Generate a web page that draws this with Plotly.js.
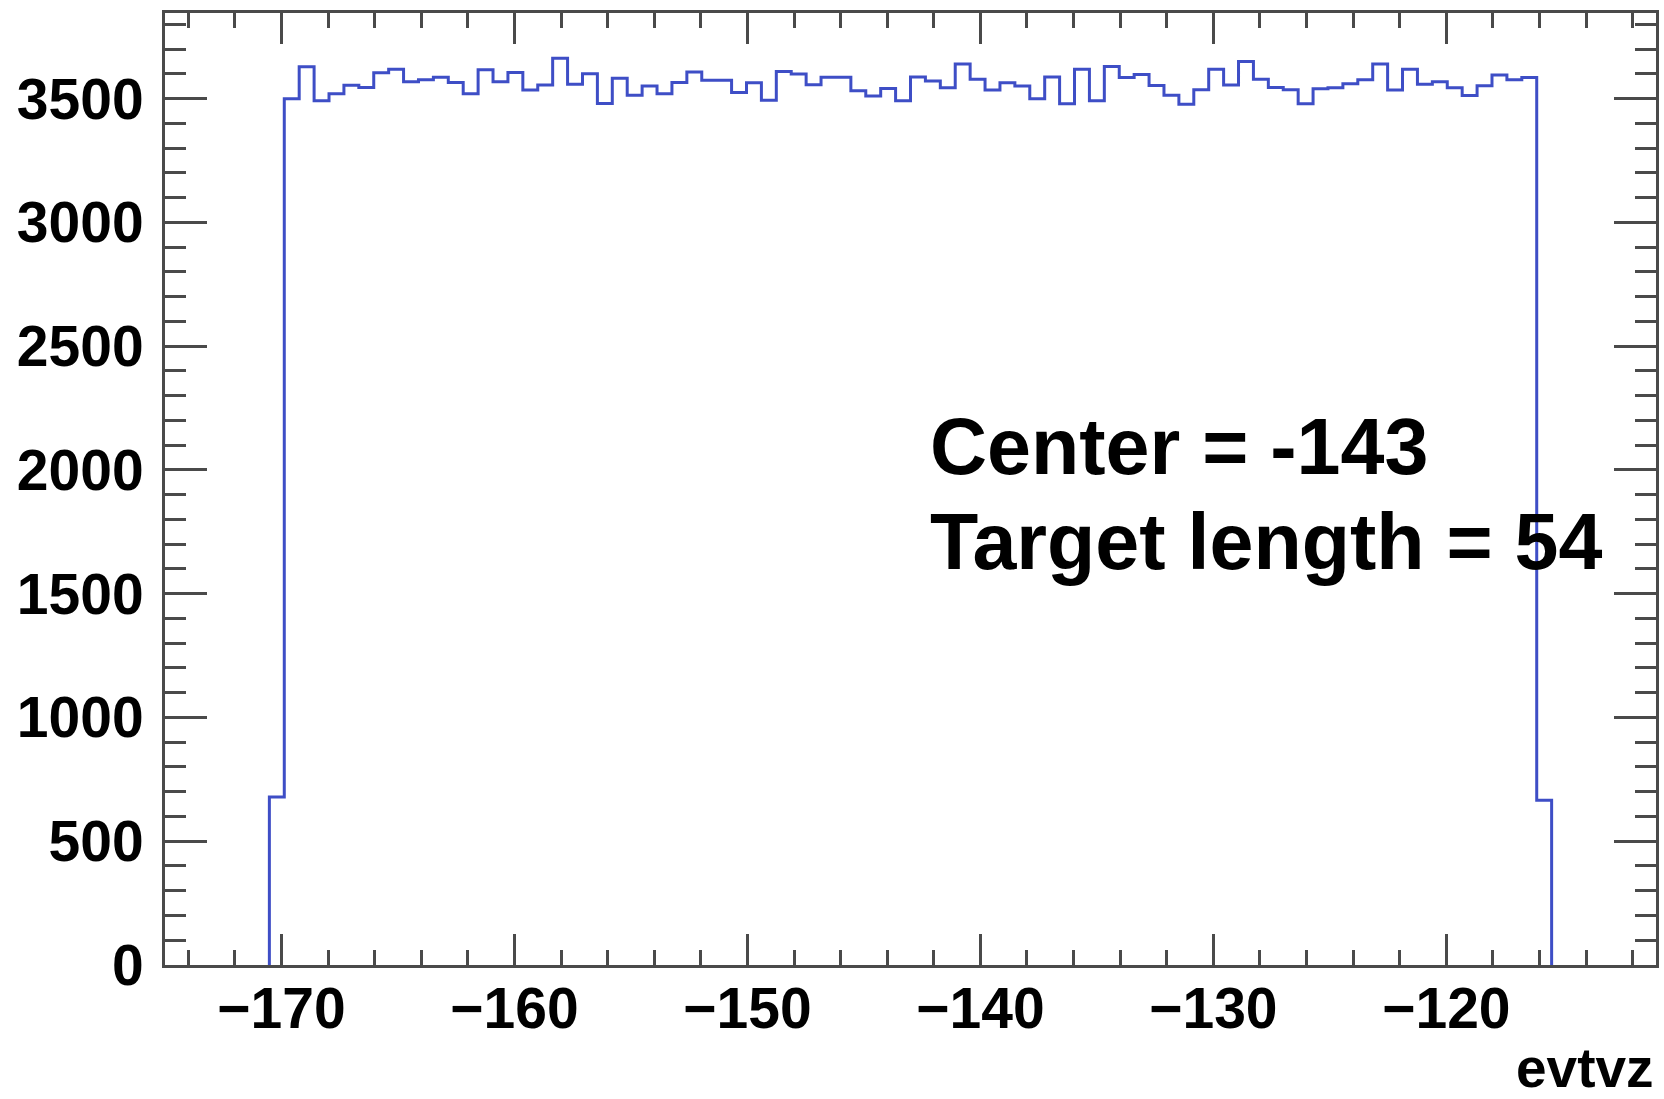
<!DOCTYPE html>
<html>
<head>
<meta charset="utf-8">
<script src="https://cdn.plot.ly/plotly-3.0.1.min.js"></script>
<style>
  html, body { margin: 0; padding: 0; background: #ffffff; }
  #chart { width: 1664px; height: 1099px; }
</style>
</head>
<body>
<div id="chart"></div>
<script>
// Histogram definition (ROOT-style TH1, 100 bins)
const xLow = -175;
const xHigh = -111;
const nBins = 100;

// Bin contents for bins 7..92 (all other bins are empty)
const firstFilledBin = 7;
const counts = [
  679,
  3500, 3629, 3491, 3520, 3554, 3545, 3605, 3619, 3568, 3576,
  3586, 3565, 3520, 3617, 3568, 3606, 3535, 3555, 3663, 3558,
  3601, 3480, 3582, 3514, 3551, 3520, 3565, 3608, 3574, 3574,
  3525, 3564, 3494, 3610, 3600, 3556, 3586, 3586, 3532, 3511,
  3541, 3492, 3587, 3571, 3544, 3640, 3578, 3535, 3564, 3551,
  3500, 3587, 3479, 3619, 3492, 3630, 3585, 3598, 3553, 3514,
  3477, 3536, 3619, 3555, 3650, 3578, 3545, 3536, 3479, 3540,
  3544, 3560, 3576, 3640, 3535, 3619, 3558, 3568, 3544, 3513,
  3552, 3596, 3576, 3585,
  666
];

const xTickValues = [-170, -160, -150, -140, -130, -120];
const yTickValues = [0, 500, 1000, 1500, 2000, 2500, 3000, 3500];
const xTitle = 'evtvz';
const infoLines = ['Center = -143', 'Target length = 54'];

// Build step outline from bin edges
const binWidth = (xHigh - xLow) / nBins;
const xs = [], ys = [];
const edge = k => xLow + k * binWidth;
xs.push(edge(firstFilledBin)); ys.push(0);
counts.forEach((c, i) => { xs.push(edge(firstFilledBin + i)); ys.push(c); });
const lastBin = firstFilledBin + counts.length; // right edge index
xs.push(edge(lastBin)); ys.push(counts[counts.length - 1]);
xs.push(edge(lastBin)); ys.push(0);

const frameColor = '#4a4a4a';
const fontFam = '"Liberation Sans", Arial, Helvetica, sans-serif';

const trace = {
  type: 'scatter',
  mode: 'lines',
  x: xs,
  y: ys,
  line: { shape: 'hv', color: '#3e4ec6', width: 3 },
  hoverinfo: 'skip',
  showlegend: false
};

const layout = {
  width: 1664,
  height: 1099,
  margin: { l: 165, r: 8, t: 13, b: 134, pad: 0 },
  paper_bgcolor: '#ffffff',
  plot_bgcolor: '#ffffff',
  font: { family: fontFam, color: '#000000' },
  xaxis: {
    range: [xLow, xHigh],
    tickmode: 'array',
    tickvals: xTickValues,
    ticktext: xTickValues.map(v => '\u2212' + Math.abs(v)),
    ticks: 'inside',
    ticklen: 31,
    tickwidth: 3,
    tickcolor: frameColor,
    minor: { dtick: 2, tick0: -170, ticks: 'inside', ticklen: 15, tickwidth: 3, tickcolor: frameColor, showgrid: false },
    showline: true,
    linecolor: frameColor,
    linewidth: 3,
    mirror: 'ticks',
    showgrid: false,
    zeroline: false,
    tickfont: { family: fontFam, size: 57, weight: 700, color: '#000000' },
    ticklabelstandoff: -8
  },
  yaxis: {
    range: [0, 3846],
    tickmode: 'array',
    tickvals: yTickValues,
    ticktext: yTickValues.map(v => String(v)),
    ticks: 'inside',
    ticklen: 42,
    tickwidth: 3,
    tickcolor: frameColor,
    minor: { dtick: 100, tick0: 0, ticks: 'inside', ticklen: 21, tickwidth: 3, tickcolor: frameColor, showgrid: false },
    showline: true,
    linecolor: frameColor,
    linewidth: 3,
    mirror: 'ticks',
    showgrid: false,
    zeroline: false,
    tickfont: { family: fontFam, size: 57, weight: 700, color: '#000000' },
    ticklabelstandoff: 7
  },
  annotations: [
    {
      xref: 'paper', yref: 'paper', x: 1, y: -0.1077,
      xanchor: 'right', yanchor: 'middle', showarrow: false,
      text: xTitle,
      font: { family: fontFam, size: 55, weight: 700, color: '#000000' }
    },
    {
      xref: 'paper', yref: 'paper', x: 0.5117, y: 0.5446,
      xanchor: 'left', yanchor: 'middle', showarrow: false, align: 'left',
      text: infoLines[0],
      font: { family: fontFam, size: 79, weight: 700, color: '#000000' }
    },
    {
      xref: 'paper', yref: 'paper', x: 0.5117, y: 0.4449,
      xanchor: 'left', yanchor: 'middle', showarrow: false, align: 'left',
      text: infoLines[1],
      font: { family: fontFam, size: 79, weight: 700, color: '#000000' }
    }
  ]
};

Plotly.newPlot('chart', [trace], layout, { staticPlot: true, displayModeBar: false });
</script>
</body>
</html>
